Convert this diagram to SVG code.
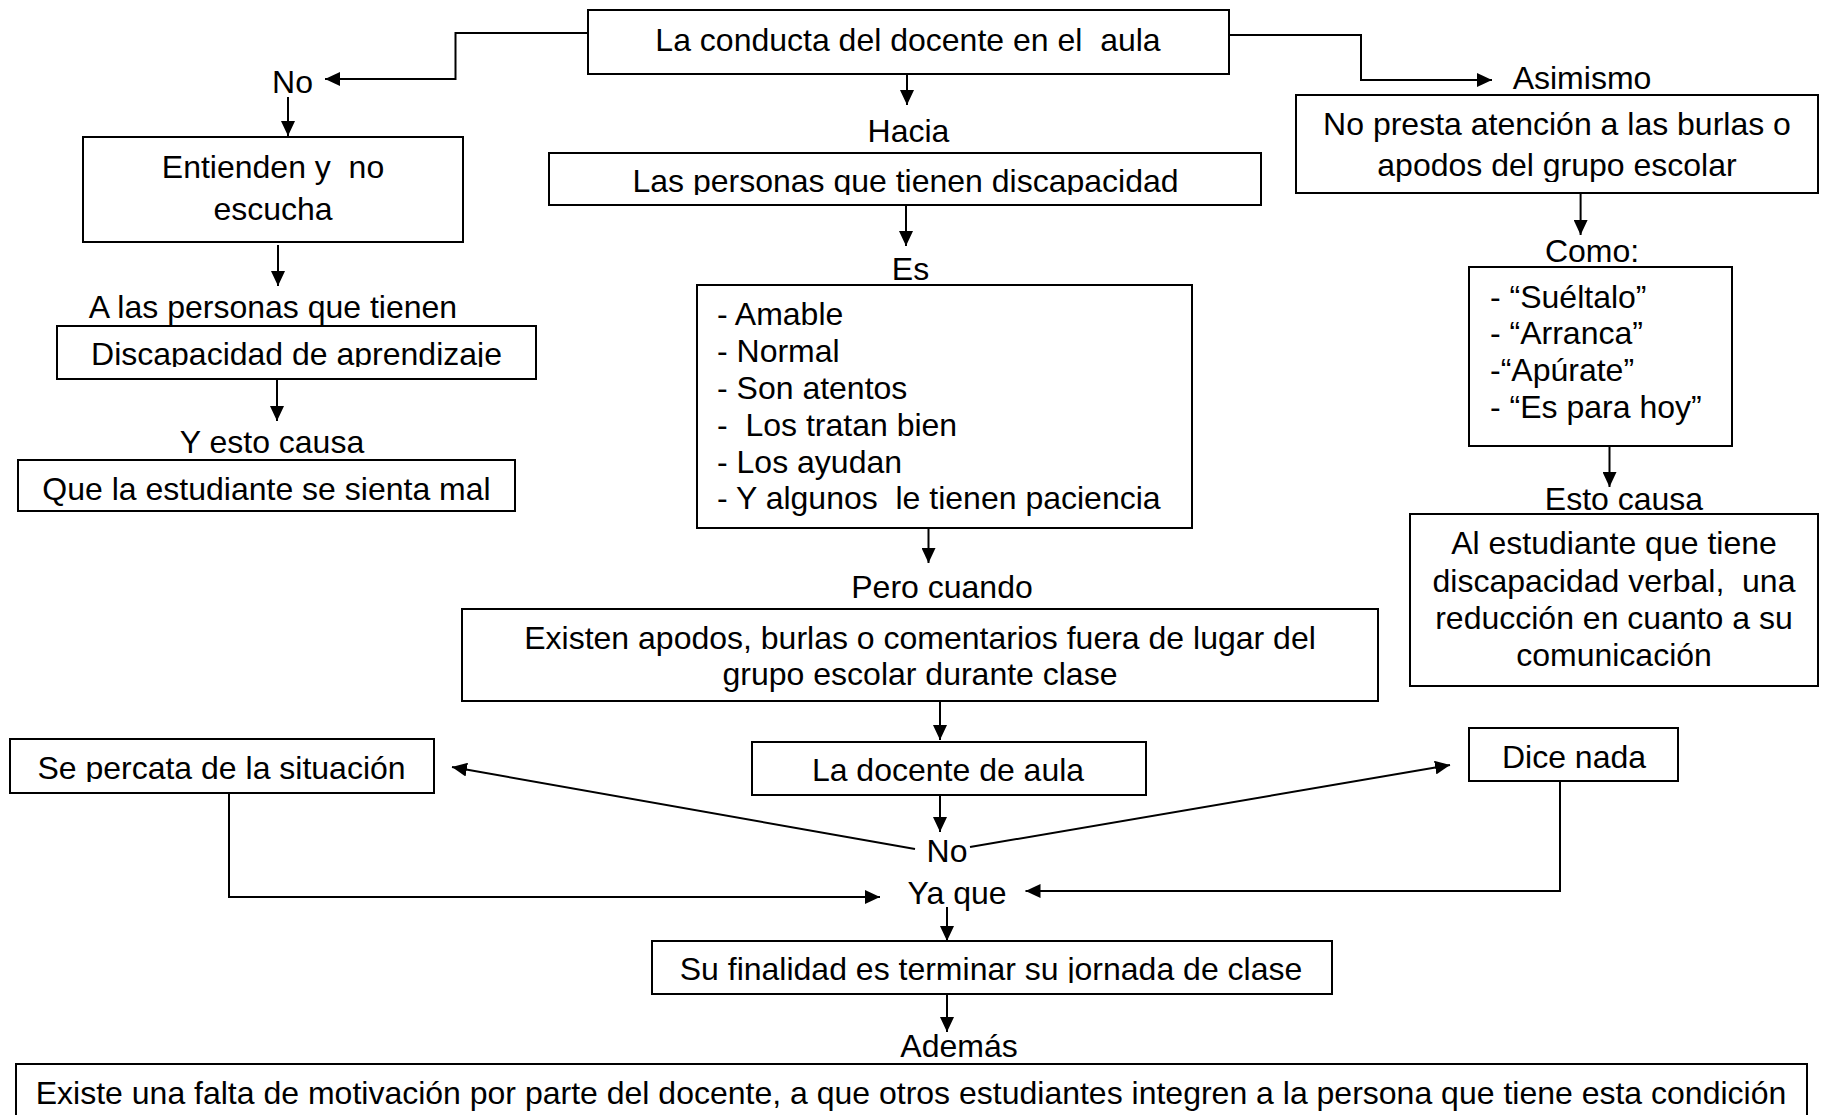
<svg xmlns="http://www.w3.org/2000/svg" width="1828" height="1115" viewBox="0 0 1828 1115">
<style>
.t{font-family:"Liberation Sans",Arial,sans-serif;font-size:32px;fill:#000;white-space:pre}
.c{text-anchor:middle}
.b{fill:#fff;stroke:#000;stroke-width:2}
.k{fill:none;stroke:#000;stroke-width:2}
</style>
<defs>
<marker id="ah" markerUnits="userSpaceOnUse" markerWidth="16" markerHeight="14" refX="15" refY="7" orient="auto">
<path d="M0,0 L15,7 L0,14 z" fill="#000"/>
</marker>
<clipPath id="cp1"><rect x="0" y="0" width="1828" height="367"/></clipPath>
<clipPath id="cp2"><rect x="0" y="0" width="1828" height="195"/></clipPath>
<clipPath id="cp3"><rect x="0" y="0" width="1828" height="182"/></clipPath>
<clipPath id="cp4"><rect x="0" y="0" width="1828" height="782"/></clipPath>
<clipPath id="cp5"><rect x="0" y="0" width="1828" height="983"/></clipPath>
</defs>

<g id="connectors">
<polyline class="k" points="588,33 455.5,33 455.5,79 325,79" marker-end="url(#ah)"/>
<line class="k" x1="288" y1="97" x2="288" y2="136" marker-end="url(#ah)"/>
<line class="k" x1="278" y1="245" x2="278" y2="286" marker-end="url(#ah)"/>
<line class="k" x1="277" y1="379" x2="277" y2="421" marker-end="url(#ah)"/>
<line class="k" x1="907" y1="74" x2="907" y2="105" marker-end="url(#ah)"/>
<line class="k" x1="906" y1="205" x2="906" y2="246" marker-end="url(#ah)"/>
<line class="k" x1="928.5" y1="528" x2="928.5" y2="563" marker-end="url(#ah)"/>
<line class="k" x1="940" y1="701" x2="940" y2="740" marker-end="url(#ah)"/>
<line class="k" x1="940" y1="795" x2="940" y2="832" marker-end="url(#ah)"/>
<line class="k" x1="915" y1="849" x2="452" y2="767" marker-end="url(#ah)"/>
<line class="k" x1="970" y1="847" x2="1450" y2="765" marker-end="url(#ah)"/>
<polyline class="k" points="229,791 229,897 880,897" marker-end="url(#ah)"/>
<polyline class="k" points="1560,781 1560,891 1025.5,891" marker-end="url(#ah)"/>
<line class="k" x1="947" y1="907" x2="947" y2="941" marker-end="url(#ah)"/>
<line class="k" x1="947" y1="994" x2="947" y2="1032" marker-end="url(#ah)"/>
<polyline class="k" points="1229,35 1361,35 1361,80 1492,80" marker-end="url(#ah)"/>
<line class="k" x1="1580.6" y1="193" x2="1580.6" y2="235" marker-end="url(#ah)"/>
<line class="k" x1="1609.5" y1="446" x2="1609.5" y2="487" marker-end="url(#ah)"/>
</g>

<g id="n-top">
<rect class="b" x="588" y="10" width="641" height="64"/>
<text class="t c" x="908" y="51">La conducta del docente en el  aula</text>
</g>

<g id="n-no1"><text class="t c" x="292.5" y="93">No</text></g>

<g id="n-entienden">
<rect class="b" x="83" y="137" width="380" height="105"/>
<text class="t c" x="273" y="178">Entienden y  no</text>
<text class="t c" x="273" y="220">escucha</text>
</g>

<g id="n-alas"><text class="t c" x="273" y="318">A las personas que tienen</text></g>

<g id="n-discapacidad">
<rect class="b" x="57" y="326" width="479" height="53"/>
<text class="t c" x="296.5" y="365" clip-path="url(#cp1)">Discapacidad de aprendizaje</text>
</g>

<g id="n-yesto"><text class="t c" x="272" y="453">Y esto causa</text></g>

<g id="n-que">
<rect class="b" x="18" y="460" width="497" height="51"/>
<text class="t c" x="266.5" y="500">Que la estudiante se sienta mal</text>
</g>

<g id="n-hacia"><text class="t c" x="908.5" y="142">Hacia</text></g>

<g id="n-personas">
<rect class="b" x="549" y="153" width="712" height="52"/>
<text class="t c" x="905.5" y="192" clip-path="url(#cp2)">Las personas que tienen discapacidad</text>
</g>

<g id="n-es"><text class="t c" x="910.5" y="280">Es</text></g>

<g id="n-lista">
<rect class="b" x="697" y="285" width="495" height="243"/>
<text class="t" x="717" y="325">- Amable</text>
<text class="t" x="717" y="362">- Normal</text>
<text class="t" x="717" y="399">- Son atentos</text>
<text class="t" x="717" y="436">-  Los tratan bien</text>
<text class="t" x="717" y="473">- Los ayudan</text>
<text class="t" x="717" y="509">- Y algunos  le tienen paciencia</text>
</g>

<g id="n-pero"><text class="t c" x="942" y="598">Pero cuando</text></g>

<g id="n-existen">
<rect class="b" x="462" y="609" width="916" height="92"/>
<text class="t c" x="920" y="649">Existen apodos, burlas o comentarios fuera de lugar del</text>
<text class="t c" x="920" y="685">grupo escolar durante clase</text>
</g>

<g id="n-docente">
<rect class="b" x="752" y="742" width="394" height="53"/>
<text class="t c" x="948" y="781">La docente de aula</text>
</g>

<g id="n-no2"><text class="t c" x="947" y="862">No</text></g>

<g id="n-percata">
<rect class="b" x="10" y="739" width="424" height="54"/>
<text class="t c" x="221.5" y="779" clip-path="url(#cp4)">Se percata de la situación</text>
</g>

<g id="n-dice">
<rect class="b" x="1469" y="728" width="209" height="53"/>
<text class="t c" x="1574" y="768">Dice nada</text>
</g>

<g id="n-yaque"><text class="t c" x="957" y="904">Ya que</text></g>

<g id="n-finalidad">
<rect class="b" x="652" y="941" width="680" height="53"/>
<text class="t c" x="991" y="980" clip-path="url(#cp5)">Su finalidad es terminar su jornada de clase</text>
</g>

<g id="n-ademas"><text class="t c" x="959" y="1057">Además</text></g>

<g id="n-existe">
<rect class="b" x="16" y="1064" width="1791" height="100"/>
<text class="t c" x="911" y="1104">Existe una falta de motivación por parte del docente, a que otros estudiantes integren a la persona que tiene esta condición</text>
</g>

<g id="n-asimismo"><text class="t c" x="1582" y="89">Asimismo</text></g>

<g id="n-nopresta">
<rect class="b" x="1296" y="95" width="522" height="98"/>
<text class="t c" x="1557" y="135">No presta atención a las burlas o</text>
<text class="t c" x="1557" y="176" clip-path="url(#cp3)">apodos del grupo escolar</text>
</g>

<g id="n-como"><text class="t c" x="1592" y="262">Como:</text></g>

<g id="n-comolista">
<rect class="b" x="1469" y="267" width="263" height="179"/>
<text class="t" x="1490" y="308">- “Suéltalo”</text>
<text class="t" x="1490" y="344">- “Arranca”</text>
<text class="t" x="1490" y="381">-“Apúrate”</text>
<text class="t" x="1490" y="418">- “Es para hoy”</text>
</g>

<g id="n-estocausa"><text class="t c" x="1624" y="510">Esto causa</text></g>

<g id="n-alestudiante">
<rect class="b" x="1410" y="514" width="408" height="172"/>
<text class="t c" x="1614" y="554">Al estudiante que tiene</text>
<text class="t c" x="1614" y="592">discapacidad verbal,  una</text>
<text class="t c" x="1614" y="629">reducción en cuanto a su</text>
<text class="t c" x="1614" y="666">comunicación</text>
</g>
</svg>
